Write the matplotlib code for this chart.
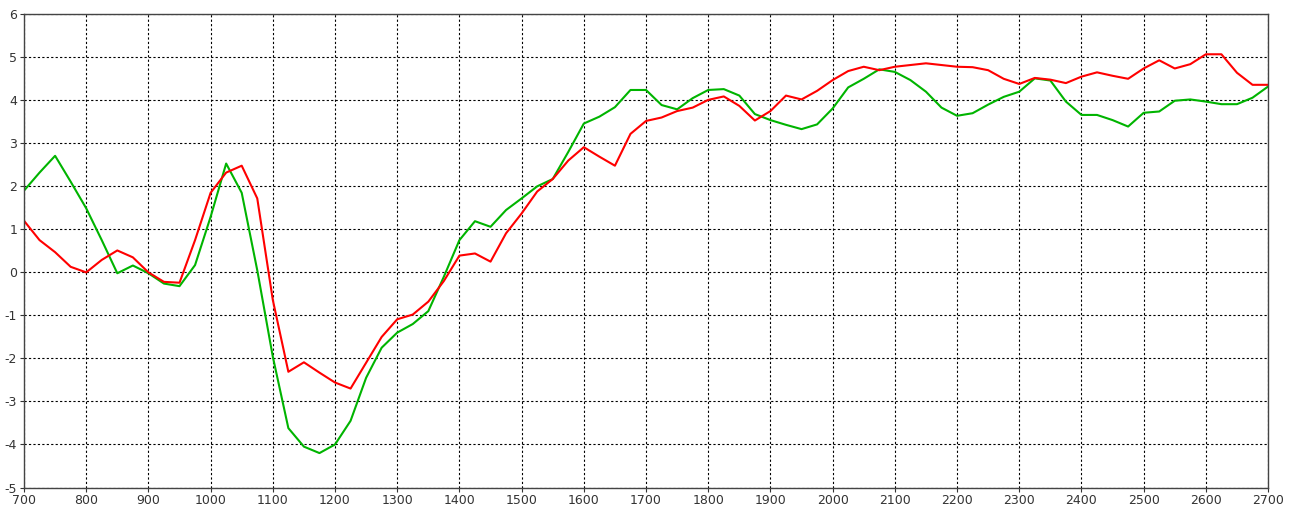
import numpy as np
import matplotlib.pyplot as plt

plt.rcParams['axes.unicode_minus'] = False

# x positions every 25 from 700 to 2700
x = np.arange(700, 2701, 25)

red = [1.20, 0.75, 0.47, 0.13, 0.00, 0.29, 0.51, 0.35, 0.00, -0.22, -0.24, 0.75,
       1.85, 2.32, 2.48, 1.72, -0.64, -2.31, -2.09, -2.33, -2.56, -2.70, -2.10, -1.50,
       -1.09, -0.98, -0.68, -0.20, 0.39, 0.44, 0.25, 0.91, 1.37, 1.88, 2.17, 2.60,
       2.91, 2.69, 2.48, 3.22, 3.52, 3.60, 3.75, 3.83, 4.01, 4.09, 3.87, 3.53,
       3.75, 4.11, 4.02, 4.22, 4.47, 4.68, 4.78, 4.70, 4.78, 4.82, 4.86, 4.82,
       4.78, 4.77, 4.70, 4.50, 4.38, 4.52, 4.48, 4.40, 4.55, 4.65, 4.57, 4.50,
       4.74, 4.93, 4.74, 4.84, 5.07, 5.07, 4.64, 4.36, 4.36]

green = [1.90, 2.32, 2.71, 2.11, 1.49, 0.75, -0.02, 0.16, -0.02, -0.26, -0.32, 0.17,
         1.29, 2.53, 1.85, 0.05, -1.96, -3.62, -4.05, -4.20, -4.00, -3.45, -2.45, -1.75,
         -1.40, -1.20, -0.90, -0.10, 0.75, 1.19, 1.06, 1.45, 1.72, 2.00, 2.17, 2.80,
         3.46, 3.62, 3.84, 4.24, 4.24, 3.89, 3.79, 4.05, 4.24, 4.26, 4.11, 3.68,
         3.54, 3.43, 3.33, 3.44, 3.81, 4.30, 4.50, 4.72, 4.66, 4.47, 4.20, 3.83,
         3.64, 3.70, 3.90, 4.08, 4.20, 4.51, 4.46, 3.97, 3.66, 3.66, 3.54, 3.39,
         3.71, 3.74, 3.99, 4.02, 3.97, 3.91, 3.91, 4.06, 4.32]

xticks = list(range(700, 2701, 100))
yticks = list(range(-5, 7))

fig = plt.figure(figsize=(12.9, 5.13), dpi=100)
ax = fig.add_axes([0.0186, 0.0497, 0.9644, 0.9225])

ax.plot(x, green, color="#00b400", lw=1.5)
ax.plot(x, red, color="#ff0000", lw=1.5)

ax.set_xlim(700, 2700)
ax.set_ylim(-5, 6)
ax.set_xticks(xticks)
ax.set_yticks(yticks)
ax.grid(True, color="black", linestyle=(0, (2, 2)), linewidth=0.8)
ax.tick_params(labelsize=9, length=3, pad=2, colors="#333333")
for s in ax.spines.values():
    s.set_color("#444444")
    s.set_linewidth(1)

fig.savefig("out.png", dpi=100)
